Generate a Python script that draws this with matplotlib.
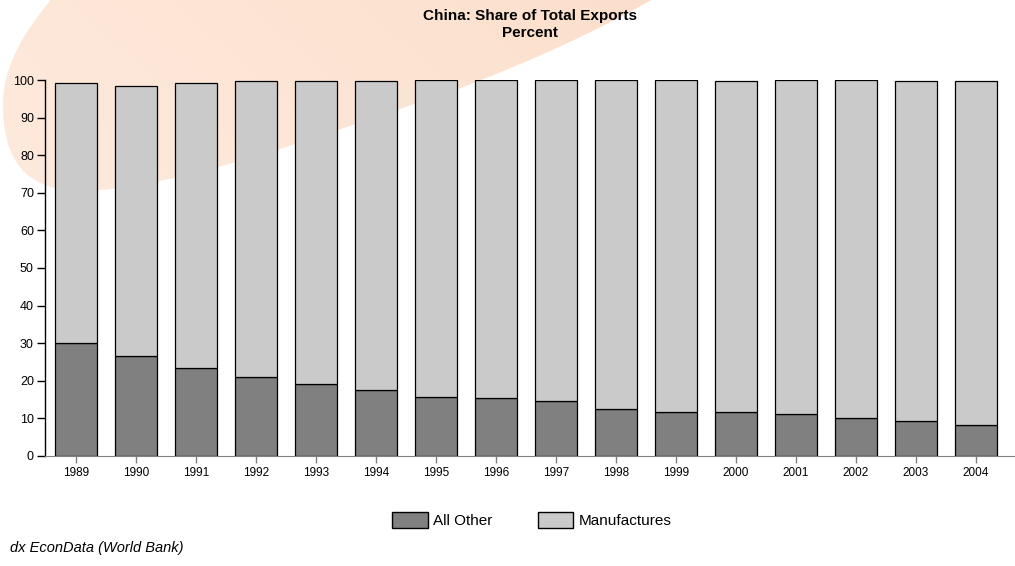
import numpy as np
import matplotlib
matplotlib.use('Agg')
import matplotlib.pyplot as plt
from matplotlib.patches import Patch, PathPatch
from matplotlib.path import Path
from matplotlib.colors import LinearSegmentedColormap

plt.rcParams['font.family'] = ['Liberation Sans', 'DejaVu Sans']

years = ['1989', '1990', '1991', '1992', '1993', '1994', '1995', '1996',
         '1997', '1998', '1999', '2000', '2001', '2002', '2003', '2004']
all_other = [30.0, 26.7, 23.5, 21.0, 19.2, 17.5, 15.7, 15.4,
             14.6, 12.6, 11.6, 11.6, 11.1, 10.0, 9.2, 8.2]
manufactures = [69.2, 71.7, 75.7, 78.8, 80.6, 82.3, 84.2, 84.6,
                85.4, 87.4, 88.4, 88.2, 88.9, 90.0, 90.6, 91.6]
yticks = [0, 10, 20, 30, 40, 50, 60, 70, 80, 90, 100]

fig = plt.figure(figsize=(10.15, 5.66), dpi=100)

# decorative background swoosh, drawn in pixel coords
bg = fig.add_axes([0, 0, 1, 1], zorder=0)
bg.set_xlim(0, 1015)
bg.set_ylim(566, 0)
bg.axis('off')
verts = [(55, -5), (25, 30), (3, 65), (3, 105),
         (3, 160), (25, 190), (80, 191),
         (180, 190), (350, 125), (450, 92),
         (530, 62), (600, 30), (660, -5),
         (660, -30), (55, -30), (55, -5)]
codes = ([Path.MOVETO] + [Path.CURVE4] * 12 + [Path.LINETO, Path.LINETO, Path.CLOSEPOLY])
swoosh = PathPatch(Path(verts, codes), facecolor='none', edgecolor='none')
bg.add_patch(swoosh)
cmap = LinearSegmentedColormap.from_list('peach', ['#fdeee4', '#fde6d6', '#fbdac4'])
gx, gy = np.meshgrid(np.linspace(0, 1, 200), np.linspace(1, 0, 120))
grad = np.clip(0.6 * gx + 0.4 * gy, 0, 1)
img = bg.imshow(grad, cmap=cmap, extent=(0, 1015, 566, 0), aspect='auto',
                interpolation='bilinear')
img.set_clip_path(swoosh)
bg.set_xlim(0, 1015)
bg.set_ylim(566, 0)

ax = fig.add_axes([45 / 1015, 110 / 566, (1015 - 45) / 1015, 376 / 566], zorder=1)
ax.patch.set_alpha(0)

x = np.arange(len(years))
ax.bar(x, all_other, width=0.69, color='#808080', edgecolor='black', linewidth=0.9)
ax.bar(x, manufactures, bottom=all_other, width=0.69, color='#cacaca',
       edgecolor='black', linewidth=0.9)

ax.set_xlim(-0.52, 15.65)
ax.set_ylim(0, 100)
ax.set_yticks(yticks)
ax.set_xticks(x)
ax.set_xticklabels(years)
ax.tick_params(axis='y', direction='out', length=6, width=1, labelsize=9, pad=2)
ax.tick_params(axis='x', direction='out', length=5, width=1, color='#808080',
               labelsize=8.5, pad=3)
ax.spines['top'].set_visible(False)
ax.spines['right'].set_visible(False)
ax.spines['bottom'].set_color('#808080')
ax.spines['left'].set_linewidth(1)

fig.text(530 / 1015, 1 - 16 / 566, 'China: Share of Total Exports', ha='center',
         va='center', fontsize=11, fontweight='bold')
fig.text(530 / 1015, 1 - 33 / 566, 'Percent', ha='center', va='center',
         fontsize=11, fontweight='bold')

handles = [Patch(facecolor='#808080', edgecolor='black', label='All Other'),
           Patch(facecolor='#cacaca', edgecolor='black', label='Manufactures')]
fig.legend(handles=handles, loc='center', bbox_to_anchor=(532 / 1015, 1 - 520 / 566),
           ncol=2, frameon=False, fontsize=11, handlelength=2.3, handleheight=1.2,
           columnspacing=3.0, handletextpad=0.35)

fig.text(10 / 1015, 1 - 548 / 566, 'dx EconData (World Bank)', ha='left', va='center',
         fontsize=10.5, style='italic')

fig.savefig('out.png', dpi=100)
